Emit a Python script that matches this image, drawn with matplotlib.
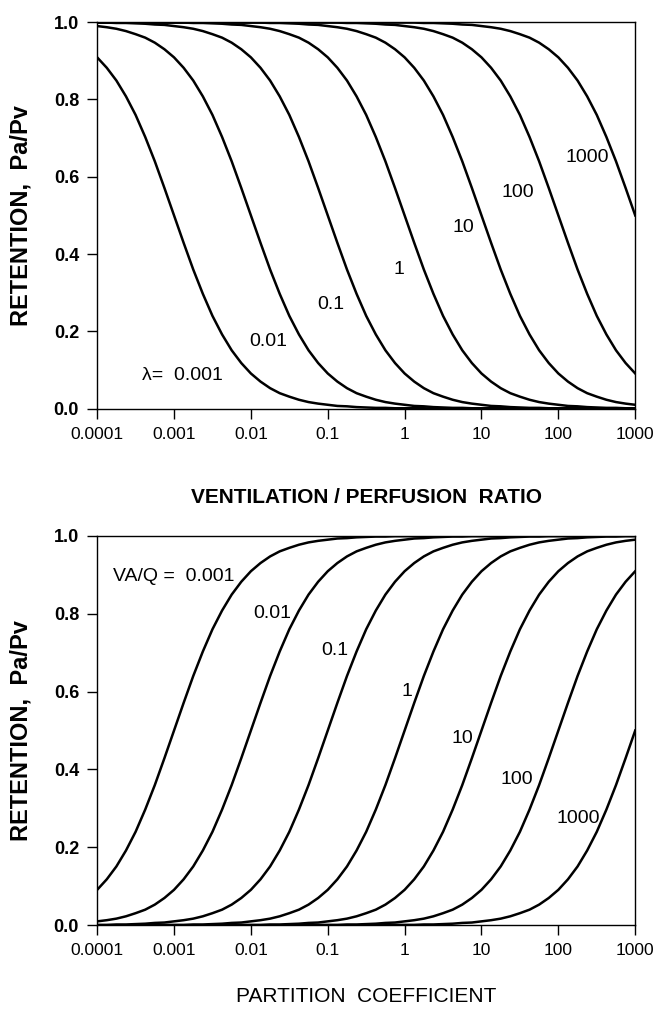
import matplotlib
matplotlib.use('Agg')
import matplotlib.pyplot as plt
import numpy as np

plt.rcParams['font.family'] = ['Liberation Sans', 'DejaVu Sans']

# x grid, eighth decades from 0.0001 to 1000 (57 points)
x_vals = 10 ** np.linspace(-4, 3, 57)
x_ticks = [0.0001, 0.001, 0.01, 0.1, 1, 10, 100, 1000]
x_ticklabels = ['0.0001', '0.001', '0.01', '0.1', '1', '10', '100', '1000']
y_ticks = [0.0, 0.2, 0.4, 0.6, 0.8, 1.0]
y_ticklabels = ['0.0', '0.2', '0.4', '0.6', '0.8', '1.0']

# top panel: retention vs VA/Q, one curve per partition coefficient
lam_names = ['0.001', '0.01', '0.1', '1', '10', '100', '1000']
ret_lam_0001 = [0.909, 0.882, 0.849, 0.808, 0.760, 0.703, 0.640, 0.571, 0.500,
                0.429, 0.360, 0.297, 0.240, 0.192, 0.151, 0.118, 0.091,
                0.070, 0.053, 0.040, 0.031, 0.023, 0.017, 0.013, 0.010,
                0.007, 0.006, 0.004, 0.003, 0.002, 0.002, 0.001, 0.001, 0.001, 0.001,
                0, 0, 0, 0, 0, 0, 0, 0, 0, 0, 0, 0, 0, 0, 0, 0, 0, 0, 0, 0, 0, 0]
ret_lam_001 = [0.990, 0.987, 0.983, 0.977, 0.969, 0.960, 0.947, 0.930,
               0.909, 0.882, 0.849, 0.808, 0.760, 0.703, 0.640, 0.571, 0.500,
               0.429, 0.360, 0.297, 0.240, 0.192, 0.151, 0.118, 0.091,
               0.070, 0.053, 0.040, 0.031, 0.023, 0.017, 0.013, 0.010,
               0.007, 0.006, 0.004, 0.003, 0.002, 0.002, 0.001, 0.001, 0.001, 0.001,
               0, 0, 0, 0, 0, 0, 0, 0, 0, 0, 0, 0, 0, 0]
ret_lam_01 = [0.999, 0.999, 0.998, 0.998, 0.997, 0.996, 0.994, 0.993,
              0.990, 0.987, 0.983, 0.977, 0.969, 0.960, 0.947, 0.930,
              0.909, 0.882, 0.849, 0.808, 0.760, 0.703, 0.640, 0.571, 0.500,
              0.429, 0.360, 0.297, 0.240, 0.192, 0.151, 0.118, 0.091,
              0.070, 0.053, 0.040, 0.031, 0.023, 0.017, 0.013, 0.010,
              0.007, 0.006, 0.004, 0.003, 0.002, 0.002, 0.001, 0.001, 0.001, 0.001,
              0, 0, 0, 0, 0, 0]
ret_lam_1 = [1, 1, 1, 1, 1, 1,
             0.999, 0.999, 0.999, 0.999, 0.998, 0.998, 0.997, 0.996, 0.994, 0.993,
             0.990, 0.987, 0.983, 0.977, 0.969, 0.960, 0.947, 0.930,
             0.909, 0.882, 0.849, 0.808, 0.760, 0.703, 0.640, 0.571, 0.500,
             0.429, 0.360, 0.297, 0.240, 0.192, 0.151, 0.118, 0.091,
             0.070, 0.053, 0.040, 0.031, 0.023, 0.017, 0.013, 0.010,
             0.007, 0.006, 0.004, 0.003, 0.002, 0.002, 0.001, 0.001]
ret_lam_10 = [1, 1, 1, 1, 1, 1, 1, 1, 1, 1, 1, 1, 1, 1,
              0.999, 0.999, 0.999, 0.999, 0.998, 0.998, 0.997, 0.996, 0.994, 0.993,
              0.990, 0.987, 0.983, 0.977, 0.969, 0.960, 0.947, 0.930,
              0.909, 0.882, 0.849, 0.808, 0.760, 0.703, 0.640, 0.571, 0.500,
              0.429, 0.360, 0.297, 0.240, 0.192, 0.151, 0.118, 0.091,
              0.070, 0.053, 0.040, 0.031, 0.023, 0.017, 0.013, 0.010]
ret_lam_100 = [1, 1, 1, 1, 1, 1, 1, 1, 1, 1, 1, 1, 1, 1, 1, 1, 1, 1, 1, 1, 1, 1,
               0.999, 0.999, 0.999, 0.999, 0.998, 0.998, 0.997, 0.996, 0.994, 0.993,
               0.990, 0.987, 0.983, 0.977, 0.969, 0.960, 0.947, 0.930,
               0.909, 0.882, 0.849, 0.808, 0.760, 0.703, 0.640, 0.571, 0.500,
               0.429, 0.360, 0.297, 0.240, 0.192, 0.151, 0.118, 0.091]
ret_lam_1000 = [1, 1, 1, 1, 1, 1, 1, 1, 1, 1, 1, 1, 1, 1, 1, 1, 1, 1, 1, 1, 1, 1, 1, 1, 1, 1, 1, 1, 1, 1,
                0.999, 0.999, 0.999, 0.999, 0.998, 0.998, 0.997, 0.996, 0.994, 0.993,
                0.990, 0.987, 0.983, 0.977, 0.969, 0.960, 0.947, 0.930,
                0.909, 0.882, 0.849, 0.808, 0.760, 0.703, 0.640, 0.571, 0.500]

# bottom panel: retention vs partition coefficient, one curve per VA/Q
vq_names = ['0.001', '0.01', '0.1', '1', '10', '100', '1000']
ret_vq_0001 = [0.091, 0.118, 0.151, 0.192, 0.240, 0.297, 0.360, 0.429, 0.500,
               0.571, 0.640, 0.703, 0.760, 0.808, 0.849, 0.882, 0.909,
               0.930, 0.947, 0.960, 0.969, 0.977, 0.983, 0.987, 0.990,
               0.993, 0.994, 0.996, 0.997, 0.998, 0.998, 0.999, 0.999, 0.999, 0.999,
               1, 1, 1, 1, 1, 1, 1, 1, 1, 1, 1, 1, 1, 1, 1, 1, 1, 1, 1, 1, 1, 1]
ret_vq_001 = [0.010, 0.013, 0.017, 0.023, 0.031, 0.040, 0.053, 0.070,
              0.091, 0.118, 0.151, 0.192, 0.240, 0.297, 0.360, 0.429, 0.500,
              0.571, 0.640, 0.703, 0.760, 0.808, 0.849, 0.882, 0.909,
              0.930, 0.947, 0.960, 0.969, 0.977, 0.983, 0.987, 0.990,
              0.993, 0.994, 0.996, 0.997, 0.998, 0.998, 0.999, 0.999, 0.999, 0.999,
              1, 1, 1, 1, 1, 1, 1, 1, 1, 1, 1, 1, 1, 1]
ret_vq_01 = [0.001, 0.001, 0.002, 0.002, 0.003, 0.004, 0.006, 0.007,
             0.010, 0.013, 0.017, 0.023, 0.031, 0.040, 0.053, 0.070,
             0.091, 0.118, 0.151, 0.192, 0.240, 0.297, 0.360, 0.429, 0.500,
             0.571, 0.640, 0.703, 0.760, 0.808, 0.849, 0.882, 0.909,
             0.930, 0.947, 0.960, 0.969, 0.977, 0.983, 0.987, 0.990,
             0.993, 0.994, 0.996, 0.997, 0.998, 0.998, 0.999, 0.999, 0.999, 0.999,
             1, 1, 1, 1, 1, 1]
ret_vq_1 = [0, 0, 0, 0, 0, 0,
            0.001, 0.001, 0.001, 0.001, 0.002, 0.002, 0.003, 0.004, 0.006, 0.007,
            0.010, 0.013, 0.017, 0.023, 0.031, 0.040, 0.053, 0.070,
            0.091, 0.118, 0.151, 0.192, 0.240, 0.297, 0.360, 0.429, 0.500,
            0.571, 0.640, 0.703, 0.760, 0.808, 0.849, 0.882, 0.909,
            0.930, 0.947, 0.960, 0.969, 0.977, 0.983, 0.987, 0.990,
            0.993, 0.994, 0.996, 0.997, 0.998, 0.998, 0.999, 0.999]
ret_vq_10 = [0, 0, 0, 0, 0, 0, 0, 0, 0, 0, 0, 0, 0, 0,
             0.001, 0.001, 0.001, 0.001, 0.002, 0.002, 0.003, 0.004, 0.006, 0.007,
             0.010, 0.013, 0.017, 0.023, 0.031, 0.040, 0.053, 0.070,
             0.091, 0.118, 0.151, 0.192, 0.240, 0.297, 0.360, 0.429, 0.500,
             0.571, 0.640, 0.703, 0.760, 0.808, 0.849, 0.882, 0.909,
             0.930, 0.947, 0.960, 0.969, 0.977, 0.983, 0.987, 0.990]
ret_vq_100 = [0, 0, 0, 0, 0, 0, 0, 0, 0, 0, 0, 0, 0, 0, 0, 0, 0, 0, 0, 0, 0, 0,
              0.001, 0.001, 0.001, 0.001, 0.002, 0.002, 0.003, 0.004, 0.006, 0.007,
              0.010, 0.013, 0.017, 0.023, 0.031, 0.040, 0.053, 0.070,
              0.091, 0.118, 0.151, 0.192, 0.240, 0.297, 0.360, 0.429, 0.500,
              0.571, 0.640, 0.703, 0.760, 0.808, 0.849, 0.882, 0.909]
ret_vq_1000 = [0, 0, 0, 0, 0, 0, 0, 0, 0, 0, 0, 0, 0, 0, 0, 0, 0, 0, 0, 0, 0, 0, 0, 0, 0, 0, 0, 0, 0, 0,
               0.001, 0.001, 0.001, 0.001, 0.002, 0.002, 0.003, 0.004, 0.006, 0.007,
               0.010, 0.013, 0.017, 0.023, 0.031, 0.040, 0.053, 0.070,
               0.091, 0.118, 0.151, 0.192, 0.240, 0.297, 0.360, 0.429, 0.500]

# where the curve names sit (x, y in data units)
lam_label_x = [0.0013, 0.017, 0.11, 0.85, 5.8, 30, 240]
lam_label_y = [0.085, 0.175, 0.27, 0.36, 0.47, 0.56, 0.65]
vq_label_x = [0.0010, 0.019, 0.125, 1.07, 5.6, 29, 180]
vq_label_y = [0.895, 0.80, 0.705, 0.60, 0.48, 0.375, 0.275]


def setup_axes(ax, xlabel, bold, pad):
    ax.set_xscale('log')
    ax.set_xlim(0.0001, 1000)
    ax.set_ylim(0, 1.0)
    ax.set_xticks(x_ticks)
    ax.set_xticklabels(x_ticklabels, fontsize=12.5)
    ax.minorticks_off()
    ax.set_yticks(y_ticks)
    ax.set_yticklabels(y_ticklabels, fontsize=13, fontweight='bold')
    ax.tick_params(axis='both', direction='out', length=7, width=1, pad=6)
    ax.set_ylabel('RETENTION,  Pa/Pv', fontsize=17, fontweight='bold', labelpad=15)
    ax.set_xlabel(xlabel, fontsize=15, fontweight=('bold' if bold else 'normal'), labelpad=pad)
    for sp in ax.spines.values():
        sp.set_linewidth(1)


fig = plt.figure(figsize=(6.61, 10.09), dpi=100)

# top panel
ax1 = fig.add_axes([0.147, 0.595, 0.814, 0.383])
for ys in [ret_lam_0001, ret_lam_001, ret_lam_01, ret_lam_1, ret_lam_10, ret_lam_100, ret_lam_1000]:
    ax1.plot(x_vals, ys, color='black', lw=1.8)
for i, name in enumerate(lam_names):
    txt = name
    if i == 0:
        txt = '\u03bb=  ' + name
    ax1.text(lam_label_x[i], lam_label_y[i], txt, fontsize=14, ha='center', va='center')
setup_axes(ax1, 'VENTILATION / PERFUSION  RATIO', True, 33)

# bottom panel
ax2 = fig.add_axes([0.147, 0.083, 0.814, 0.386])
for ys in [ret_vq_0001, ret_vq_001, ret_vq_01, ret_vq_1, ret_vq_10, ret_vq_100, ret_vq_1000]:
    ax2.plot(x_vals, ys, color='black', lw=1.8)
for i, name in enumerate(vq_names):
    txt = name
    if i == 0:
        txt = 'VA/Q =  ' + name
    ax2.text(vq_label_x[i], vq_label_y[i], txt, fontsize=14, ha='center', va='center')
setup_axes(ax2, 'PARTITION  COEFFICIENT', False, 21)

plt.savefig('out.png', dpi=100)
